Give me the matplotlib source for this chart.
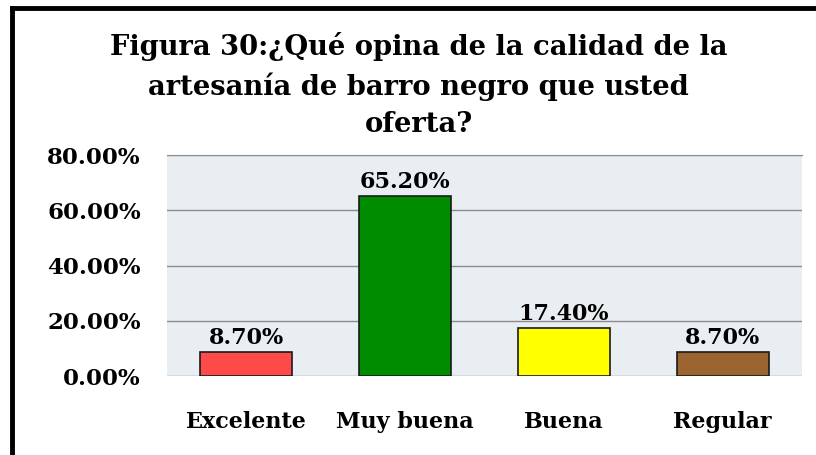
import matplotlib
matplotlib.use('Agg')
import matplotlib.pyplot as plt
from matplotlib.lines import Line2D
###############################################################################
plt.rcParams['font.family'] = ['DejaVu Serif']
plt.rcParams['font.weight'] = 'bold'

TITLE = 'Figura 30:¿Qué opina de la calidad de la\nartesanía de barro negro que usted\noferta?'
categories = ['Excelente', 'Muy buena', 'Buena', 'Regular']
percentages = [8.70, 65.20, 17.40, 8.70]
bar_colors = ['#ff4a4a', '#008c00', '#ffff00', '#9c6430']
y_ticks = [0, 20, 40, 60, 80]
###############################################################################
fig = plt.figure(figsize=(8.16, 4.55), dpi=100)
fig.patch.set_facecolor('white')
ax = fig.add_axes([0.2047, 0.1736, 0.7783, 0.4854])
ax.set_facecolor('#e8eef2')

x = list(range(len(categories)))
ax.bar(x, percentages, width=0.58, color=bar_colors, edgecolor='#1a1a1a',
       linewidth=1.2, zorder=3)

for xi, val in zip(x, percentages):
    ax.annotate('%.2f%%' % val, (xi, val), xytext=(0, 2), textcoords='offset points',
                ha='center', va='bottom', fontsize=16, fontweight='bold', zorder=4)

ax.set_xlim(-0.5, len(categories) - 0.5)
ax.set_ylim(0, 80)
ax.set_yticks(y_ticks)
ax.set_yticklabels(['%.2f%%' % t for t in y_ticks])
ax.set_xticks(x)
ax.set_xticklabels(categories)
ax.tick_params(axis='y', length=0, pad=19, labelsize=16.5)
ax.tick_params(axis='x', length=0, pad=25, labelsize=16)
ax.yaxis.grid(True, color='#8c8c8c', linewidth=1.0, zorder=0)
ax.set_axisbelow(True)
for side in ['left', 'right', 'bottom']:
    ax.spines[side].set_visible(False)
ax.spines['top'].set_color('#8c8c8c')

fig.text(0.513, 0.93, TITLE, ha='center', va='top', fontsize=19.7,
         fontweight='bold', linespacing=1.5)

# chart frame, thick black on top and left
fig.add_artist(Line2D([0.0147, 1.0], [0.982, 0.982], color='black', linewidth=3.5,
                      transform=fig.transFigure))
fig.add_artist(Line2D([0.0147, 0.0147], [0.0, 0.982], color='black', linewidth=3.5,
                      transform=fig.transFigure))

plt.savefig('out.png', dpi=100)
print('finished')
